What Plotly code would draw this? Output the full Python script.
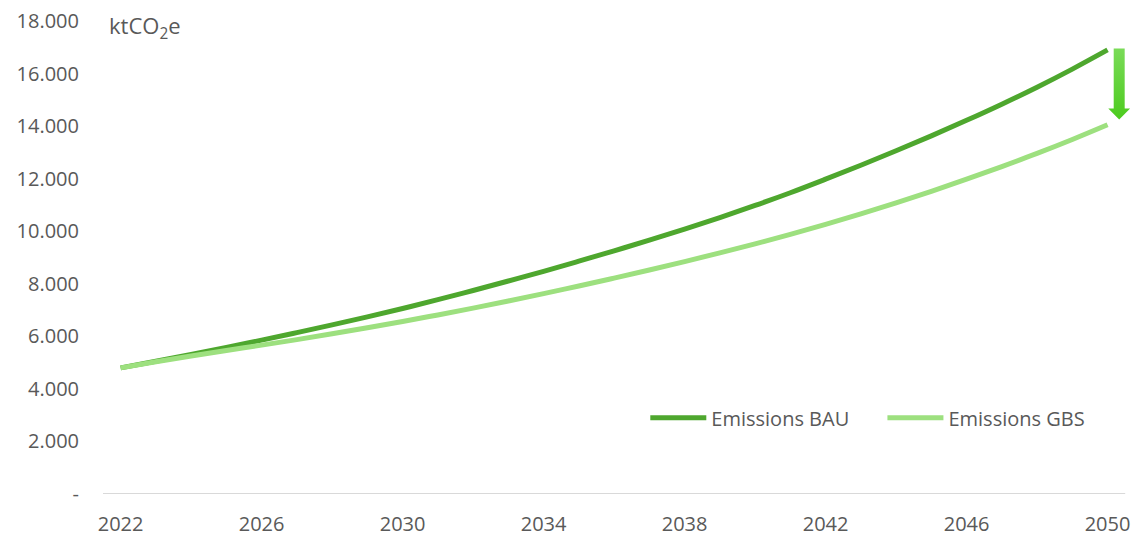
import plotly.graph_objects as go

# Annual emissions, ktCO2e
years = list(range(2022, 2051))
emissions_bau = [4800, 5055, 5315, 5580, 5855, 6140, 6435, 6740, 7060, 7395,
                 7745, 8105, 8475, 8860, 9255, 9660, 10080, 10520, 10980, 11465,
                 11980, 12510, 13060, 13630, 14220, 14835, 15480, 16170, 16900]
emissions_gbs = [4800, 5030, 5250, 5460, 5665, 5875, 6095, 6325, 6565, 6815,
                 7075, 7345, 7625, 7915, 8215, 8525, 8845, 9175, 9520, 9880,
                 10260, 10660, 11080, 11520, 11980, 12460, 12960, 13490, 14050]

x_tick_years = [2022, 2026, 2030, 2034, 2038, 2042, 2046, 2050]
y_tick_vals = [0, 2000, 4000, 6000, 8000, 10000, 12000, 14000, 16000, 18000]
y_tick_text = ["-", "2.000", "4.000", "6.000", "8.000", "10.000",
               "12.000", "14.000", "16.000", "18.000"]

BAU_COLOR = "#4EA72E"
GBS_COLOR = "#9DE07F"
TEXT_COLOR = "#595959"
FONT = "Open Sans"

fig = go.Figure()

fig.add_trace(go.Scatter(
    x=years, y=emissions_bau, name="Emissions BAU", mode="lines",
    line=dict(color=BAU_COLOR, width=5, shape="spline", smoothing=1.0),
    legend="legend",
))
fig.add_trace(go.Scatter(
    x=years, y=emissions_gbs, name="Emissions GBS", mode="lines",
    line=dict(color=GBS_COLOR, width=5, shape="spline", smoothing=1.0),
    legend="legend2",
))

# Reduction arrow beside the final year, from the BAU end value down towards GBS
last = years[-1]
ax_c = last + 0.33
shaft_hw = 0.156
head_hw = 0.31
top = emissions_bau[-1] + 50
tip = emissions_gbs[-1] + 200
head_base = tip + 420
arrow_x = [ax_c - shaft_hw, ax_c + shaft_hw, ax_c + shaft_hw, ax_c + head_hw,
           ax_c, ax_c - head_hw, ax_c - shaft_hw, ax_c - shaft_hw]
arrow_y = [top, top, head_base, head_base, tip, head_base, head_base, top]
fig.add_trace(go.Scatter(
    x=arrow_x, y=arrow_y, mode="lines", fill="toself",
    line=dict(width=0, color="rgba(0,0,0,0)"),
    fillgradient=dict(type="vertical", start=tip, stop=top,
                      colorscale=[[0, "#4CCB1E"], [1, "#7ADB58"]]),
    showlegend=False, hoverinfo="skip",
))

# Category baseline
fig.add_shape(type="line", xref="x", yref="y",
              x0=years[0] - 0.5, x1=years[-1] + 0.5, y0=0, y1=0,
              line=dict(color="#D9D9D9", width=2), layer="below")

fig.add_annotation(
    xref="paper", yref="paper", x=0.004, y=0.987, xanchor="left", yanchor="middle",
    text="ktCO<sub>2</sub>e", showarrow=False,
    font=dict(family=FONT, size=22, color=TEXT_COLOR),
)

legend_style = dict(
    orientation="h", yanchor="middle", xanchor="left", y=0.161,
    bgcolor="rgba(0,0,0,0)", itemwidth=56,
    font=dict(family=FONT, size=20, color=TEXT_COLOR),
)

fig.update_layout(
    width=1136, height=538,
    margin=dict(l=103, r=2, t=21, b=44),
    paper_bgcolor="white", plot_bgcolor="white",
    font=dict(family=FONT, size=20, color=TEXT_COLOR),
    showlegend=True,
    legend=dict(legend_style, x=0.526),
    legend2=dict(legend_style, x=0.756),
    xaxis=dict(
        range=[years[0] - 0.5, years[-1] + 0.75],
        tickmode="array", tickvals=x_tick_years,
        ticktext=[str(y) for y in x_tick_years],
        showgrid=False, zeroline=False, showline=False, ticks="",
        ticklabelstandoff=16, automargin=False,
    ),
    yaxis=dict(
        range=[0, 18000],
        tickmode="array", tickvals=y_tick_vals, ticktext=y_tick_text,
        showgrid=False, zeroline=False, showline=False, ticks="",
        ticklabelstandoff=23, automargin=False,
    ),
)

fig.write_html("out.html")
